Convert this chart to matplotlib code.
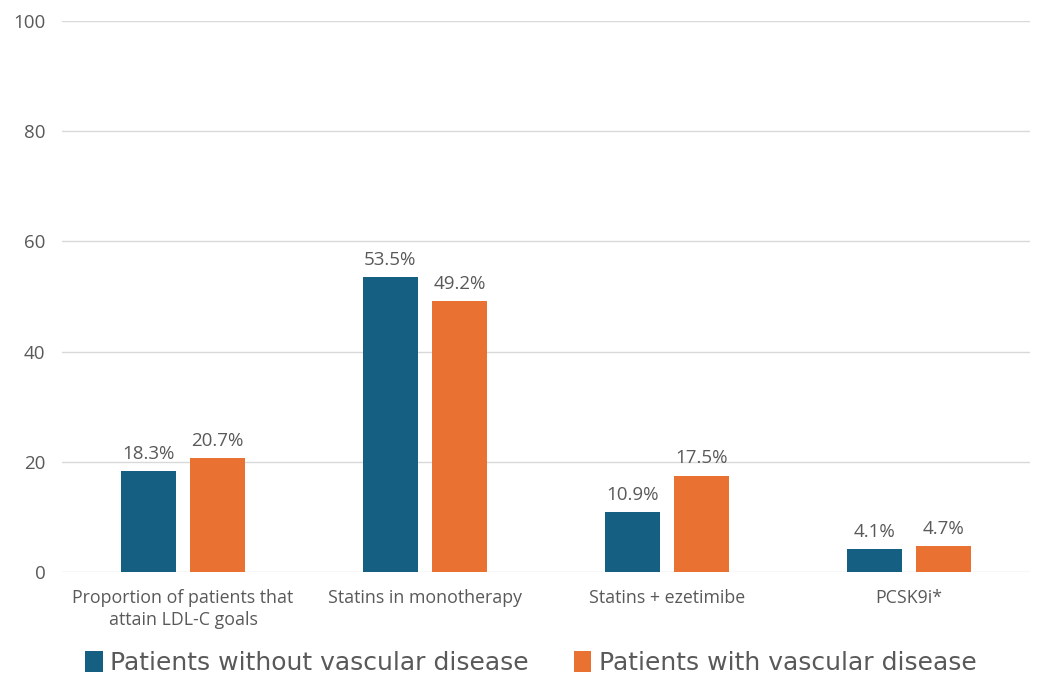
import matplotlib
matplotlib.use("Agg")
import matplotlib.pyplot as plt
import numpy as np

categories = ["Proportion of patients that\nattain LDL-C goals", "Statins in monotherapy",
              "Statins + ezetimibe", "PCSK9i*"]
without_vd = [18.3, 53.5, 10.9, 4.1]
with_vd = [20.7, 49.2, 17.5, 4.7]
series_names = ["Patients without vascular disease", "Patients with vascular disease"]
yticks = [0, 20, 40, 60, 80, 100]

blue = "#155F82"
orange = "#E97132"
gray = "#595959"

fig = plt.figure(figsize=(10.37, 6.77), dpi=100)
ax = fig.add_axes([0.0598, 0.1551, 0.9334, 0.8139])

x = np.arange(len(categories))
w = 0.227
off = 0.143
b1 = ax.bar(x - off, without_vd, w, color=blue, label=series_names[0], zorder=3)
b2 = ax.bar(x + off, with_vd, w, color=orange, label=series_names[1], zorder=3)

for bars, vals in ((b1, without_vd), (b2, with_vd)):
    for r, v in zip(bars, vals):
        ax.text(r.get_x() + r.get_width() / 2, v + 1.5, f"{v}%", ha="center", va="bottom",
                fontsize=13.5, color=gray, family="Open Sans")

ax.set_xlim(-0.5, 3.5)
ax.set_ylim(0, 100)
ax.set_yticks(yticks)
ax.set_yticklabels([str(t) for t in yticks], family="Open Sans", fontsize=13.5, color=gray)
ax.set_xticks(x)
ax.set_xticklabels(categories, family="Open Sans", fontsize=12.8, color=gray, linespacing=1.3)
ax.tick_params(axis="both", length=0)
ax.tick_params(axis="y", pad=12)
ax.tick_params(axis="x", pad=12)
ax.grid(axis="y", color="#D9D9D9", linewidth=1, zorder=0)
for s in ax.spines.values():
    s.set_visible(False)

leg = fig.legend(loc="center", bbox_to_anchor=(0.512, 0.02), ncol=2, frameon=False,
                 prop={"family": "DejaVu Sans", "size": 18},
                 handlelength=0.7, handleheight=0.9, handletextpad=0.3, columnspacing=1.8)
for t in leg.get_texts():
    t.set_color(gray)

fig.savefig("out.png", dpi=100)
